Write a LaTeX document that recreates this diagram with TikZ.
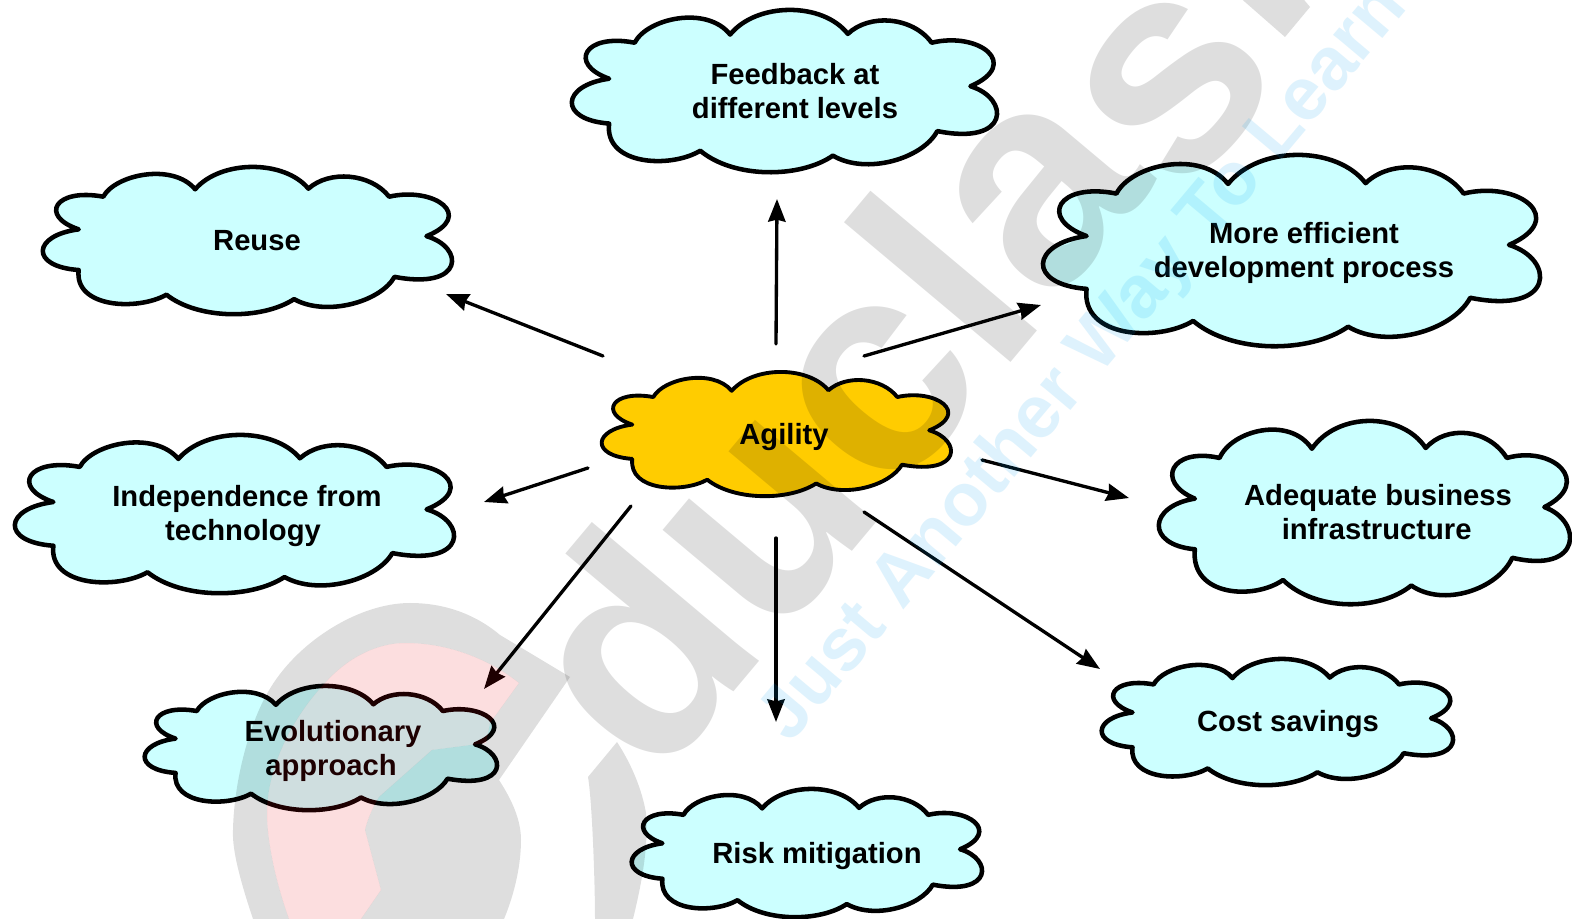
\documentclass[tikz,border=0pt]{standalone}
\usepackage{fontspec}
\setmainfont{Liberation Sans}
\usetikzlibrary{arrows.meta}
\definecolor{cloudblue}{RGB}{204,255,255}
\definecolor{cloudgold}{RGB}{255,204,0}
\definecolor{markpink}{RGB}{232,0,8}
\definecolor{markblue}{RGB}{0,161,240}
\newcommand{\cloudshape}[6]{%
  \pgfmathsetmacro{\sxx}{(#3-#1-4)/1285*0.75}%
  \pgfmathsetmacro{\syy}{(#4-#2-4)/495*0.75}%
  \begin{scope}[shift={(#1+2,#2+2)},x=\sxx pt,y=-\syy pt,shift={(-30,-25)}]
    \draw[cloudline,fill=#5,line width=#6]
      (145,235) .. controls (20,190) and (70,95) .. (222,125)
      .. controls (260,50) and (440,10) .. (510,100)
      .. controls (590,0) and (790,0) .. (865,98)
      .. controls (930,35) and (1060,45) .. (1118,125)
      .. controls (1260,90) and (1390,190) .. (1235,258)
      .. controls (1355,295) and (1355,440) .. (1135,395)
      .. controls (1090,480) and (920,530) .. (820,470)
      .. controls (720,540) and (520,540) .. (420,455)
      .. controls (330,510) and (130,500) .. (145,372)
      .. controls (-10,360) and (0,255) .. (145,235) -- cycle;
  \end{scope}}
\tikzset{
  cloudline/.style={draw=black,line join=round},
  cloudtext/.style={font=\bfseries\fontsize{21.9pt}{25.9pt}\selectfont,align=center,inner sep=0pt,text=black},
  linkarrow/.style={line width=2.5pt,line cap=round,-{Stealth[length=17pt,width=13pt,inset=1.5pt]}},
  markgray/.style={fill=black,fill opacity=.13},
  markpinkfill/.style={fill=markpink,fill opacity=.13},
  marktext/.style={font=\bfseries\fontsize{225pt}{225pt}\selectfont,text=black,text opacity=.13,rotate=50,anchor=base west,inner sep=0pt},
  markline/.style={font=\bfseries\fontsize{56pt}{56pt}\selectfont,text=markblue,text opacity=.13,rotate=50,anchor=base west,inner sep=0pt}
}
\begin{document}
\begin{tikzpicture}[x=0.75pt,y=-0.75pt]
\useasboundingbox (0,0) rectangle (1572,919);
\clip (0,0) rectangle (1572,919);
\fill[white] (0,0) rectangle (1572,919);
% clouds
\cloudshape{569}{8}{999}{174}{cloudblue}{3.4pt}
\cloudshape{40}{165}{454}{316}{cloudblue}{3.4pt}
\cloudshape{1040}{153}{1542}{348}{cloudblue}{3.4pt}
\cloudshape{599}{370}{953}{498}{cloudgold}{2.9pt}
\cloudshape{12}{433}{456}{595}{cloudblue}{3.4pt}
\cloudshape{1156}{419}{1572}{606}{cloudblue}{3.4pt}
\cloudshape{142}{684}{499}{812}{cloudblue}{3.4pt}
\cloudshape{629}{787}{984}{919}{cloudblue}{3.4pt}
\cloudshape{1099}{657}{1455}{787}{cloudblue}{3.4pt}
% labels
\node[cloudtext] (feedback) at (795,91) {Feedback at\\different levels};
\node[cloudtext] (reuse) at (257,241) {Reuse};
\node[cloudtext] (efficient) at (1304,253) {More efficient\\development process};
\node[cloudtext] (agility) at (784,437) {Agility};
\node[cloudtext] (independence) at (247,516) {Independence from\\technology\kern6pt};
\node[cloudtext] (adequate) at (1378,512) {Adequate business\\infrastructure\kern2pt};
\node[cloudtext] (evolutionary) at (333,751) {Evolutionary\\approach\kern3pt};
\node[cloudtext] (risk) at (817,856) {Risk mitigation};
\node[cloudtext] (cost) at (1288,724) {Cost savings};
% connector ends
\coordinate (aUp) at (776,344);   \coordinate (toFeedback) at (777,199);
\coordinate (aUL) at (603,356);   \coordinate (toReuse) at (446,294);
\coordinate (aUR) at (864,356);   \coordinate (toEfficient) at (1041,305);
\coordinate (aL) at (588,468);    \coordinate (toIndependence) at (484,502);
\coordinate (aR) at (982,460);    \coordinate (toAdequate) at (1129,498);
\coordinate (aDL) at (631,506);   \coordinate (toEvolutionary) at (484,689);
\coordinate (aDown) at (776,538); \coordinate (toRisk) at (776,722);
\coordinate (aDR) at (864,512);   \coordinate (toCost) at (1100,669);
\draw[linkarrow] (aUp) -- (toFeedback);
\draw[linkarrow] (aUL) -- (toReuse);
\draw[linkarrow] (aUR) -- (toEfficient);
\draw[linkarrow] (aL) -- (toIndependence);
\draw[linkarrow] (aR) -- (toAdequate);
\draw[linkarrow] (aDL) -- (toEvolutionary);
\draw[linkarrow] (aDown) -- (toRisk);
\draw[linkarrow] (aDR) -- (toCost);
% watermark
\path[markgray,even odd rule]
  (262,950) -- (253,919) .. controls (240,880) and (232,850) .. (233,830)
  .. controls (234,780) and (250,720) .. (271,687)
  .. controls (300,640) and (360,603) .. (410,603)
  .. controls (450,603) and (480,618) .. (500,635) -- (570,677) -- (499,780)
  .. controls (512,800) and (521,820) .. (521,840)
  .. controls (521,870) and (512,900) .. (504,919) -- (500,950) -- cycle
  (325,683) .. controls (350,655) and (380,643) .. (405,643)
  .. controls (450,643) and (490,660) .. (519,683)
  -- (490,723) -- (486,743) -- (432,750) -- (379,797)
  .. controls (368,815) and (365,830) .. (365,830) -- (381,890) -- (361,919) -- (345,950) -- (300,950) -- (289,919)
  .. controls (275,880) and (267,840) .. (267,813)
  .. controls (267,770) and (290,720) .. (325,683) -- cycle;
\path[markpinkfill]
  (325,683) .. controls (350,655) and (380,643) .. (405,643)
  .. controls (450,643) and (490,660) .. (519,683)
  -- (490,723) -- (486,743) -- (432,750) -- (379,797)
  .. controls (368,815) and (365,830) .. (365,830) -- (381,890) -- (361,919) -- (345,950) -- (300,950) -- (289,919)
  .. controls (275,880) and (267,840) .. (267,813)
  .. controls (267,770) and (290,720) .. (325,683) -- cycle;
\path[markgray] (617,742) -- (588,777) .. controls (592,800) and (595,880) .. (595,919) -- (595,950) -- (633,950) -- (633,919)
  .. controls (645,870) and (648,840) .. (646,813) .. controls (642,790) and (632,765) .. (617,742) -- cycle;
\path[markgray] (1237,-5) -- (1285,37) -- (1310,7) -- (1300,-5) -- cycle;
\node[marktext] (wordmark) at (654,787) {ducl};
\node[marktext] (wordmarkA) at (1050,310) {a};
\node[marktext] (wordmarkS) at (1182,202) {s};
\node[markline] (tagline) at (790,745) {Just Another Way To Learn};
\end{tikzpicture}
\end{document}
